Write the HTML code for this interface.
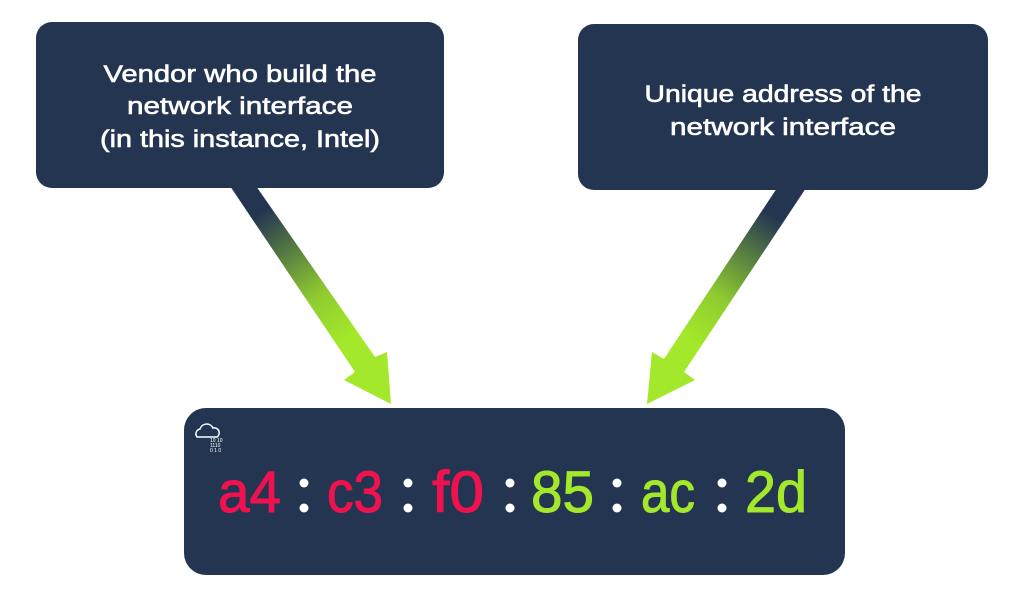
<!DOCTYPE html>
<html><head><meta charset="utf-8"><style>
html,body{margin:0;padding:0;background:#fff;}
svg{display:block;}
text{font-family:"Liberation Sans",sans-serif;}
</style></head><body>
<svg width="1024" height="615" viewBox="0 0 1024 615" xmlns="http://www.w3.org/2000/svg">
<defs>
<linearGradient id="g1" gradientUnits="userSpaceOnUse" x1="242" y1="188" x2="391" y2="404">
<stop offset="0" stop-color="#243552"/>
<stop offset="0.12" stop-color="#243552"/>
<stop offset="0.5" stop-color="#8fcb30"/>
<stop offset="0.7" stop-color="#a3e82a"/>
<stop offset="1" stop-color="#a3e82a"/>
</linearGradient>
<linearGradient id="g2" gradientUnits="userSpaceOnUse" x1="791" y1="190" x2="647" y2="404">
<stop offset="0" stop-color="#243552"/>
<stop offset="0.12" stop-color="#243552"/>
<stop offset="0.5" stop-color="#8fcb30"/>
<stop offset="0.7" stop-color="#a3e82a"/>
<stop offset="1" stop-color="#a3e82a"/>
</linearGradient>
</defs>
<polygon fill="url(#g1)" points="230,186 256,186 375,357 387,352 391,404 344,380 355,372"/>
<polygon fill="url(#g2)" points="777,188 806,188 684,372 695,380 647,404 652,352 664,359"/>
<rect x="36" y="22" width="408" height="166" rx="16" fill="#243552"/>
<rect x="578" y="24" width="410" height="166" rx="16" fill="#243552"/>
<rect x="184" y="408" width="661" height="167" rx="22" fill="#243552"/>
<g fill="#fff" stroke="#fff" stroke-width="0.6" font-size="24" text-anchor="middle">
<text x="240" y="82" textLength="273" lengthAdjust="spacingAndGlyphs">Vendor who build the</text>
<text x="240" y="114" textLength="226" lengthAdjust="spacingAndGlyphs">network interface</text>
<text x="240" y="147" textLength="280" lengthAdjust="spacingAndGlyphs">(in this instance, Intel)</text>
<text x="783" y="102" textLength="277" lengthAdjust="spacingAndGlyphs">Unique address of the</text>
<text x="783" y="135" textLength="226" lengthAdjust="spacingAndGlyphs">network interface</text>
</g>
<g fill="none" stroke="#fff" stroke-width="1.5">
<path d="M197,437 a5,5 0 0 1 3,-8 a7,7 0 0 1 13,-1 a5,5 0 0 1 4,9 z"/>
</g>
<g fill="#fff" font-size="5">
<text x="210" y="442">10 10</text>
<text x="210" y="447">1110</text>
<text x="210" y="452">0 1 0</text>
</g>
<g font-size="58" stroke-width="1">
<text x="218" y="512" fill="#f0124f" stroke="#f0124f" textLength="63" lengthAdjust="spacingAndGlyphs">a4</text>
<text x="327" y="512" fill="#f0124f" stroke="#f0124f" textLength="56" lengthAdjust="spacingAndGlyphs">c3</text>
<text x="432" y="512" fill="#f0124f" stroke="#f0124f" textLength="52" lengthAdjust="spacingAndGlyphs">f0</text>
<text x="531" y="512" fill="#a3e82a" stroke="#a3e82a" textLength="63" lengthAdjust="spacingAndGlyphs">85</text>
<text x="641" y="512" fill="#a3e82a" stroke="#a3e82a" textLength="54" lengthAdjust="spacingAndGlyphs">ac</text>
<text x="745" y="512" fill="#a3e82a" stroke="#a3e82a" textLength="62" lengthAdjust="spacingAndGlyphs">2d</text>
</g>
<g fill="#fff">
<circle cx="304" cy="483" r="4.5"/><circle cx="304" cy="508" r="4.5"/>
<circle cx="408" cy="483" r="4.5"/><circle cx="408" cy="508" r="4.5"/>
<circle cx="510" cy="483" r="4.5"/><circle cx="510" cy="508" r="4.5"/>
<circle cx="617" cy="483" r="4.5"/><circle cx="617" cy="508" r="4.5"/>
<circle cx="722" cy="483" r="4.5"/><circle cx="722" cy="508" r="4.5"/>
</g>
</svg>
</body></html>
